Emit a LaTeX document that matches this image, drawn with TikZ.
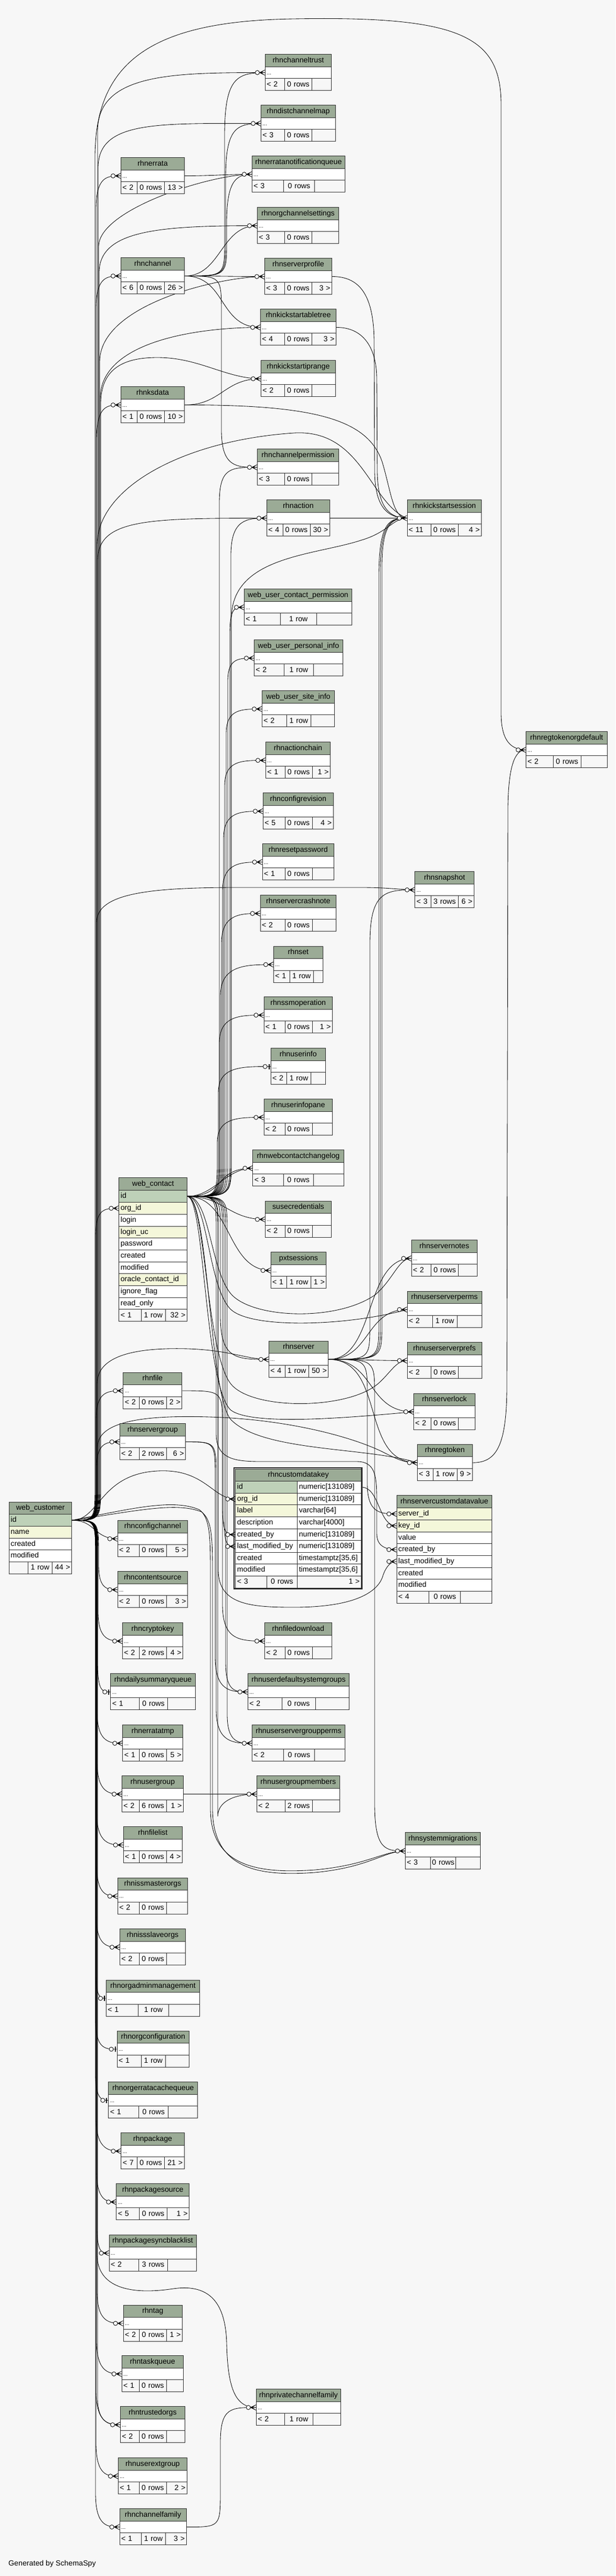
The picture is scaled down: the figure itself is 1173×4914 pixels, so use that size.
\documentclass[tikz,border=0pt]{standalone}
\usepackage{fontspec}
\setmainfont{Liberation Sans}
\usetikzlibrary{calc}
\definecolor{bgc}{HTML}{F7F7F7}
\definecolor{hdrc}{HTML}{9BAB96}
\definecolor{pkc}{HTML}{BED1B8}
\definecolor{idxc}{HTML}{F4F7DA}
\definecolor{bordc}{HTML}{2A2A2A}
\pgfdeclarelayer{back}
\pgfdeclarelayer{edges}
\pgfsetlayers{back,edges,main}
\newcommand\tabfont{\fontsize{14.2}{16}\selectfont}
\newcommand\dotsfont{\fontsize{10}{12}\selectfont}
\def\tblsplit#1/#2\relax{\def\tblda{#1}\def\tbldb{#2}}
\newcommand\dbft[6]{\pgfmathsetmacro\tbw{#3-#2-6}\node[ftst, text width=\tbw pt, align=#5] (#1) at (#2,#4) {\mbox{#6}};}
\newcommand\dbcol[6]{\pgfmathsetmacro\tbw{#3-#2-6}\node[rowst, fill=#5, text width=\tbw pt] (#1) at (#2,#4) {\mbox{#6}};}
\newcommand\dbtable[9]{%
 \tblsplit#6\relax
 \pgfmathsetmacro\tbww{#4-#3}%
 \pgfmathsetmacro\tbwr{#4-#3-6}%
 \pgfmathsetmacro\tby{#5+23.7}%
 \pgfmathsetmacro\tbz{#5+46.4}%
 \node[hdrst, minimum width=\tbww pt] (#1) at (#3,#5) {#2};
 \node[rowst, text width=\tbwr pt] (#1-r) at (#3,\tby) {\dotsfont...};
 \dbft{#1-fa}{#3}{\tblda}{\tbz}{left}{#7}
 \dbft{#1-fb}{\tblda}{\tbldb}{\tbz}{center}{#8}
 \dbft{#1-fc}{\tbldb}{#4}{\tbz}{right}{#9}}
% connector via a vertical bus: from, to, busx, y after first bend, y leave bus, ctrl y, ctrl x
\newcommand\dbconn[7]{\draw[rel] let \p1=(#1.east), \p2=(#2.west) in
 (\p1) .. controls (#3pt,\y1) .. (#3pt,-#4pt) -- (#3pt,-#5pt) .. controls (#3pt,-#6pt) and (#7pt,\y2) .. (\p2);}
\newcommand\dbs[3]{\draw[rel] (#1.east) .. controls +(#3,0) and +(-#3,0) .. (#2.west);}
\newcommand\crowft[1]{%
 \draw[rel] ([xshift=-10pt]#1.west) -- ([yshift=5pt]#1.west) ([xshift=-10pt]#1.west) -- ([yshift=-5pt]#1.west);
 \fill ([xshift=-11pt]#1.west) -- ([xshift=-3pt,yshift=3.5pt]#1.west) -- ([xshift=-6pt]#1.west) -- ([xshift=-3pt,yshift=-3.5pt]#1.west) -- cycle;
 \draw[rel,fill=white] ([xshift=-14.5pt]#1.west) circle (4pt);}
\newcommand\teeft[1]{%
 \draw[line width=2pt] ([xshift=-3pt,yshift=5pt]#1.west) -- ([xshift=-3pt,yshift=-5pt]#1.west);
 \draw[rel,fill=white] ([xshift=-10.5pt]#1.west) circle (4pt);}

\begin{document}
\begin{tikzpicture}[x=1pt,y=-1pt,
 hdrst/.style={draw=bordc, fill=hdrc, line width=0.9pt, inner xsep=3pt, inner ysep=0pt, minimum height=23.7pt, anchor=north west, font=\tabfont, text height=10.5pt, text depth=3pt},
 rowst/.style={draw=bordc, fill=white, line width=0.9pt, inner xsep=3pt, inner ysep=0pt, minimum height=22.7pt, anchor=north west, font=\tabfont, align=left, text height=10.5pt, text depth=3pt},
 ftst/.style={rowst, fill=bgc, minimum height=23pt},
 rel/.style={draw=black, line width=0.85pt}]
\useasboundingbox (0,0) rectangle (1173,4914);
\begin{pgfonlayer}{back}
\fill[bgc] (0,0) rectangle (1173,4914);
\end{pgfonlayer}

% ---------------- tables ----------------
\dbtable{ct}{rhnchanneltrust}{505}{631}{103}{542/594}{< 2}{0 rows}{}
\dbtable{dcm}{rhndistchannelmap}{497}{639}{200}{542/594}{< 3}{0 rows}{}
\dbtable{enq}{rhnerratanotificationqueue}{480}{657}{297}{540/599}{< 3}{0 rows}{}
\dbtable{ocs}{rhnorgchannelsettings}{490}{645}{395}{542/594}{< 3}{0 rows}{}
\dbtable{err}{rhnerrata}{230}{351}{300}{261/313}{< 2}{0 rows}{13 >}
\dbtable{ch}{rhnchannel}{230}{351}{491}{261/313}{< 6}{0 rows}{26 >}
\dbtable{sp}{rhnserverprofile}{504}{632}{492}{542/594}{< 3}{0 rows}{3 >}
\dbtable{kt}{rhnkickstartabletree}{496}{640}{589}{542/594}{< 4}{0 rows}{3 >}
\dbtable{kir}{rhnkickstartiprange}{497}{639}{687}{542/594}{< 2}{0 rows}{}
\dbtable{ksd}{rhnksdata}{230}{351}{737}{261/313}{< 1}{0 rows}{10 >}
\dbtable{cp}{rhnchannelpermission}{490}{645}{856}{542/594}{< 3}{0 rows}{}
\dbtable{act}{rhnaction}{508}{628}{953}{538.5/590.6}{< 4}{0 rows}{30 >}
\dbtable{kss}{rhnkickstartsession}{775.5}{917}{953}{820.7/872.8}{< 11}{0 rows}{4 >}
\dbtable{wucp}{web\_user\_contact\_permission}{465}{670}{1123}{534/602.6}{< 1}{1 row}{}
\dbtable{wupi}{web\_user\_personal\_info}{484}{653}{1220}{541/597}{< 2}{1 row}{}
\dbtable{wusi}{web\_user\_site\_info}{499}{637}{1317}{546/592}{< 2}{1 row}{}
\dbtable{ac}{rhnactionchain}{506}{629}{1415}{542.7/594.8}{< 1}{0 rows}{1 >}
\dbtable{rtod}{rhnregtokenorgdefault}{1002}{1157}{1395}{1054/1106.5}{< 2}{0 rows}{}
\dbtable{cr}{rhnconfigrevision}{501}{634.6}{1512}{542.5/594.6}{< 5}{0 rows}{4 >}
\dbtable{rp}{rhnresetpassword}{499.6}{636}{1609}{542.5/594.6}{< 1}{0 rows}{}
\dbtable{scn}{rhnservercrashnote}{495.7}{640}{1707}{542.5/594.6}{< 2}{0 rows}{}
\dbtable{rset}{rhnset}{521}{615}{1804.5}{551.8/596.8}{< 1}{1 row}{}
\dbtable{snap}{rhnsnapshot}{790.4}{903}{1662}{821/873}{< 3}{3 rows}{6 >}
\dbtable{ssm}{rhnssmoperation}{502.5}{633}{1901}{542.5/594.6}{< 1}{0 rows}{1 >}
\dbtable{ui}{rhnuserinfo}{515.7}{620}{1999}{546.4/591.8}{< 2}{1 row}{}
\dbtable{uip}{rhnuserinfopane}{502.5}{633}{2096}{542.5/594.6}{< 2}{0 rows}{}
\dbtable{wccl}{rhnwebcontactchangelog}{481.4}{654.6}{2193}{539.6/597}{< 3}{0 rows}{}
\dbtable{sc}{susecredentials}{505}{631}{2290.6}{542.5/594.6}{< 2}{0 rows}{}
\dbtable{pxt}{pxtsessions}{515.7}{621.4}{2388}{546.4/591.8}{< 1}{1 row}{1 >}
\dbtable{sn}{rhnservernotes}{783.6}{909}{2365}{821.4/873.2}{< 2}{0 rows}{}
\dbtable{usp}{rhnuserserverperms}{775.7}{917.5}{2462.6}{823.6/870.7}{< 2}{1 row}{}
\dbtable{srv}{rhnserver}{511.8}{625.4}{2557.7}{542.5/587.9}{< 4}{1 row}{50 >}
\dbtable{uspf}{rhnuserserverprefs}{775.7}{917.5}{2560}{821.4/873.2}{< 2}{0 rows}{}
\dbtable{sl}{rhnserverlock}{787.9}{905.4}{2657.6}{821.4/873.2}{< 2}{0 rows}{}
\dbtable{rfile}{rhnfile}{234.3}{346.4}{2617.5}{265/316.8}{< 2}{0 rows}{2 >}
\dbtable{sg}{rhnservergroup}{227.7}{353.3}{2715}{265/317.3}{< 2}{2 rows}{6 >}
\dbtable{rt}{rhnregtoken}{794.8}{900}{2754.7}{825.4/870.5}{< 3}{1 row}{9 >}
\dbtable{cc}{rhnconfigchannel}{223.7}{357.3}{2899.8}{265.3/317.3}{< 2}{0 rows}{5 >}
\dbtable{cs}{rhncontentsource}{223.7}{357.3}{2997}{265.3/317.3}{< 2}{0 rows}{3 >}
\dbtable{fd}{rhnfiledownload}{504}{631.7}{3095}{542.6/595}{< 2}{0 rows}{}
\dbtable{ck}{rhncryptokey}{233}{348.3}{3095}{265/317.3}{< 2}{2 rows}{4 >}
\dbtable{udsg}{rhnuserdefaultsystemgroups}{471.8}{665.4}{3192}{536.8/600.7}{< 2}{0 rows}{}
\dbtable{dsq}{rhndailysummaryqueue}{210.3}{372}{3192}{265.3/318.7}{< 1}{0 rows}{}
\dbtable{etmp}{rhnerratatmp}{233.3}{348.2}{3290}{264.8/317}{< 1}{0 rows}{5 >}
\dbtable{usgp}{rhnuserservergroupperms}{480}{657}{3290}{539.7/599}{< 2}{0 rows}{}
\dbtable{ug}{rhnusergroup}{232}{349}{3387}{264.8/317}{< 2}{6 rows}{1 >}
\dbtable{ugm}{rhnusergroupmembers}{489}{646.7}{3387}{542.6/594.9}{< 2}{2 rows}{}
\dbtable{fl}{rhnfilelist}{234.6}{347}{3484}{264.8/317}{< 1}{0 rows}{4 >}
\dbtable{sm}{rhnsystemmigrations}{772}{915}{3495.4}{820/868}{< 3}{0 rows}{}
\dbtable{imo}{rhnissmasterorgs}{223.8}{357.3}{3581.7}{264.8/317}{< 2}{0 rows}{}
\dbtable{iso}{rhnissslaveorgs}{228}{353}{3679}{264.8/317}{< 2}{0 rows}{}
\dbtable{oam}{rhnorgadminmanagement}{202}{380}{3776.5}{262.8/321}{< 1}{1 row}{}
\dbtable{oc}{rhnorgconfiguration}{222.6}{360.2}{3873.5}{269/314.6}{< 1}{1 row}{}
\dbtable{oecq}{rhnorgerratacachequeue}{206.4}{376.4}{3971}{264/320.4}{< 1}{0 rows}{}
\dbtable{pkg}{rhnpackage}{230.4}{350.7}{4068}{261/313}{< 7}{0 rows}{21 >}
\dbtable{pks}{rhnpackagesource}{221.3}{360.2}{4165}{265.3/317.5}{< 5}{0 rows}{1 >}
\dbtable{psb}{rhnpackagesyncblacklist}{207.6}{373.5}{4262.6}{264/319}{< 2}{3 rows}{}
\dbtable{tag}{rhntag}{234.6}{347}{4396.5}{265.3/317}{< 2}{0 rows}{1 >}
\dbtable{tq}{rhntaskqueue}{231.6}{349}{4493}{264.8/316.8}{< 1}{0 rows}{}
\dbtable{trusto}{rhntrustedorgs}{229}{352}{4590}{264.8/316.8}{< 2}{0 rows}{}
\dbtable{pcf}{rhnprivatechannelfamily}{487.8}{649}{4557}{542.3/596}{< 2}{1 row}{}
\dbtable{ueg}{rhnuserextgroup}{225}{356}{4688}{264.8/316.8}{< 1}{0 rows}{2 >}
\dbtable{cf}{rhnchannelfamily}{227.6}{354.6}{4785}{269/314.8}{< 1}{1 row}{3 >}

% web_contact
\node[hdrst, minimum width=129.6pt, minimum height=24.7pt] (wct) at (226.4,2245.7) {web\_contact};
\dbcol{wct-id}{226.4}{356}{2270.4}{pkc}{id}
\dbcol{wct-org}{226.4}{356}{2293.1}{idxc}{org\_id}
\dbcol{wct-login}{226.4}{356}{2315.8}{white}{login}
\dbcol{wct-luc}{226.4}{356}{2338.5}{idxc}{login\_uc}
\dbcol{wct-pw}{226.4}{356}{2361.2}{white}{password}
\dbcol{wct-cr}{226.4}{356}{2383.9}{white}{created}
\dbcol{wct-mod}{226.4}{356}{2406.6}{white}{modified}
\dbcol{wct-oci}{226.4}{356}{2429.3}{idxc}{oracle\_contact\_id}
\dbcol{wct-if}{226.4}{356}{2452.0}{white}{ignore\_flag}
\dbcol{wct-ro}{226.4}{356}{2474.7}{white}{read\_only}
\dbft{wct-fa}{226.4}{268.6}{2497.4}{left}{< 1}
\dbft{wct-fb}{268.6}{314.6}{2497.4}{center}{1 row}
\dbft{wct-fc}{314.6}{356}{2497.4}{right}{32 >}

% web_customer
\node[hdrst, minimum width=119.3pt] (wcu) at (17,2864.6) {web\_customer};
\dbcol{wcu-id}{17}{136.3}{2888.3}{pkc}{id}
\dbcol{wcu-name}{17}{136.3}{2911.0}{idxc}{name}
\dbcol{wcu-cr}{17}{136.3}{2933.7}{white}{created}
\dbcol{wcu-mod}{17}{136.3}{2956.4}{white}{modified}
\dbft{wcu-fa}{17}{53}{2979.1}{left}{}
\dbft{wcu-fb}{53}{98.7}{2979.1}{center}{1 row}
\dbft{wcu-fc}{98.7}{136.3}{2979.1}{right}{44 >}

% rhncustomdatakey (focus table)
\draw[bordc, line width=2.5pt] (446.2,2800) rectangle (689.6,3030.6);
\node[hdrst, minimum width=239.6pt, minimum height=23.5pt] (cdk) at (448.4,2801.7) {rhncustomdatakey};
\dbcol{cdk-id}{448.4}{566.3}{2825.2}{pkc}{id}
\dbcol{cdk-idt}{566.3}{688}{2825.2}{white}{numeric[131089]}
\dbcol{cdk-org}{448.4}{566.3}{2847.8}{idxc}{org\_id}
\dbcol{cdk-orgt}{566.3}{688}{2847.8}{white}{numeric[131089]}
\dbcol{cdk-lab}{448.4}{566.3}{2870.4}{idxc}{label}
\dbcol{cdk-labt}{566.3}{688}{2870.4}{white}{varchar[64]}
\dbcol{cdk-des}{448.4}{566.3}{2893.0}{white}{description}
\dbcol{cdk-dest}{566.3}{688}{2893.0}{white}{varchar[4000]}
\dbcol{cdk-cb}{448.4}{566.3}{2915.6}{white}{created\_by}
\dbcol{cdk-cbt}{566.3}{688}{2915.6}{white}{numeric[131089]}
\dbcol{cdk-lmb}{448.4}{566.3}{2938.2}{white}{last\_modified\_by}
\dbcol{cdk-lmbt}{566.3}{688}{2938.2}{white}{numeric[131089]}
\dbcol{cdk-cr}{448.4}{566.3}{2960.8}{white}{created}
\dbcol{cdk-crt}{566.3}{688}{2960.8}{white}{timestamptz[35,6]}
\dbcol{cdk-mod}{448.4}{566.3}{2983.4}{white}{modified}
\dbcol{cdk-modt}{566.3}{688}{2983.4}{white}{timestamptz[35,6]}
\dbft{cdk-fa}{448.4}{507.7}{3006.0}{left}{< 3}
\dbft{cdk-fb}{507.7}{566.3}{3006.0}{center}{0 rows}
\dbft{cdk-fc}{566.3}{688}{3006.0}{right}{1 >}

% rhnservercustomdatavalue
\node[hdrst, minimum width=181.3pt, minimum height=24.2pt] (scd) at (755.7,2851.9) {rhnservercustomdatavalue};
\dbcol{scd-sid}{755.7}{937}{2876.1}{idxc}{server\_id}
\dbcol{scd-kid}{755.7}{937}{2898.8}{idxc}{key\_id}
\dbcol{scd-val}{755.7}{937}{2921.5}{white}{value}
\dbcol{scd-cb}{755.7}{937}{2944.2}{white}{created\_by}
\dbcol{scd-lmb}{755.7}{937}{2966.9}{white}{last\_modified\_by}
\dbcol{scd-cr}{755.7}{937}{2989.6}{white}{created}
\dbcol{scd-mod}{755.7}{937}{3012.3}{white}{modified}
\dbft{scd-fa}{755.7}{817.3}{3035.0}{left}{< 4}
\dbft{scd-fb}{817.3}{877.4}{3035.0}{center}{0 rows}
\dbft{scd-fc}{877.4}{937}{3035.0}{right}{}

\node[anchor=west, inner sep=0pt, font=\tabfont] (gen) at (16,4891) {Generated by SchemaSpy};

% ---------------- connectors ----------------
\begin{pgfonlayer}{edges}
% web_customer, upward
\dbconn{wcu-id}{ct-r}{186}{2830}{250}{140}{330}
\dbconn{wcu-id}{dcm-r}{187}{2830}{320}{230}{300}
\dbconn{wcu-id}{enq-r}{188}{2830}{470}{400}{400}
\dbconn{wcu-id}{ocs-r}{189}{2830}{520}{440}{300}
\dbconn{wcu-id}{err-r}{183}{2830}{400}{335}{205}
\dbconn{wcu-id}{ch-r}{183}{2830}{590}{526}{205}
\dbconn{wcu-id}{sp-r}{190}{2830}{690}{580}{420}
\dbconn{wcu-id}{kt-r}{191}{2830}{760}{650}{380}
\draw[rel] (wcu-id.east) .. controls (192,2899.6) .. (192,2830) -- (192,770) .. controls (192,700) and (240,682) .. (300,682) .. controls (380,682) and (430,722) .. (kir-r.west);
\dbconn{wcu-id}{ksd-r}{184}{2830}{840}{772}{205}
\dbconn{wcu-id}{act-r}{186}{2830}{1070}{990}{280}
\draw[rel] (wcu-id.east) .. controls (185,2899.6) .. (185,2830) -- (185,1040) .. controls (185,930) and (350,840) .. (560,826) .. controls (690,818) and (705,960) .. (kss-r.west);
\draw[rel] (wcu-id.east) .. controls (181,2899.6) .. (181,2830) -- (181,300) .. controls (181,110) and (300,40) .. (560,36) .. controls (880,30) and (955,70) .. (955,200) -- (955,1360) .. controls (955,1415) and (975,1430) .. (rtod-r.west);
\draw[rel] (wcu-id.east) .. controls (184,2899.6) .. (184,2830) -- (184,1760) .. controls (184,1705) and (280,1693) .. (450,1693) -- (690,1693) .. controls (740,1693) and (760,1697) .. (snap-r.west);
\dbconn{wcu-id}{wct-org}{182}{2830}{2360}{2304}{200}
\dbconn{wcu-id}{rfile-r}{183}{2830}{2710}{2653}{205}
\dbconn{wcu-id}{sg-r}{184}{2830}{2800}{2750}{205}
\draw[rel] (wcu-id.east) .. controls (185,2899.6) .. (185,2830) -- (185,2640) .. controls (185,2585) and (260,2570) .. (360,2573) .. controls (440,2576) and (470,2593) .. (srv-r.west);
\draw[rel] (wcu-id.east) .. controls (186,2899.6) .. (186,2830) -- (186,2760) .. controls (186,2705) and (300,2700) .. (400,2703) .. controls (560,2708) and (680,2745) .. (730,2770) .. controls (760,2785) and (770,2790) .. (rt-r.west);
\draw[rel] (wcu-id.east) .. controls (190,2899.6) and (190,2812) .. (300,2806) .. controls (390,2801) and (405,2859) .. (cdk-org.west);
% web_customer, downward
\dbs{wcu-id}{cc-r}{45}
\dbconn{wcu-id}{cs-r}{188}{2970}{2985}{3032}{205}
\dbconn{wcu-id}{ck-r}{187}{2970}{3075}{3130}{210}
\dbconn{wcu-id}{dsq-r}{186}{2970}{3170}{3227}{195}
\dbconn{wcu-id}{etmp-r}{185}{2970}{3265}{3325}{210}
\dbconn{wcu-id}{ug-r}{185}{2970}{3360}{3422}{210}
\dbconn{wcu-id}{fl-r}{184}{2970}{3455}{3519}{210}
\dbconn{wcu-id}{imo-r}{184}{2970}{3555}{3617}{205}
\dbconn{wcu-id}{iso-r}{183}{2970}{3650}{3714}{205}
\dbconn{wcu-id}{oam-r}{183}{2970}{3765}{3812}{192}
\dbconn{wcu-id}{oc-r}{182}{2970}{3850}{3909}{200}
\dbconn{wcu-id}{oecq-r}{182}{2970}{3955}{4006}{195}
\dbconn{wcu-id}{pkg-r}{183}{2970}{4040}{4103}{210}
\dbconn{wcu-id}{pks-r}{184}{2970}{4140}{4200}{205}
\dbconn{wcu-id}{psb-r}{185}{2970}{4250}{4298}{195}
\dbconn{wcu-id}{tag-r}{185}{2970}{4370}{4432}{210}
\dbconn{wcu-id}{tq-r}{184}{2970}{4465}{4528}{210}
\dbconn{wcu-id}{trusto-r}{183}{2970}{4560}{4625}{210}
\dbconn{wcu-id}{trusto-r}{186}{2970}{4575}{4625}{212}
\dbconn{wcu-id}{ueg-r}{183}{2970}{4660}{4723}{205}
\dbconn{wcu-id}{cf-r}{182}{2970}{4755}{4820}{205}
\draw[rel] (wcu-id.east) .. controls (185,2899.6) .. (185,2970) -- (185,4300) .. controls (185,4365) and (250,4378) .. (330,4366) .. controls (405,4355) and (430,4400) .. (432,4470) .. controls (434,4560) and (450,4592) .. (pcf-r.west);
\draw[rel] (wcu-id.east) .. controls (250,2878) and (330,2858) .. (380,2880) .. controls (400,2895) and (401,2930) .. (401,3000) -- (401,3450) .. controls (401,3565) and (500,3574) .. (600,3567) .. controls (700,3558) and (730,3531) .. (sm-r.west);
\draw[rel] (wcu-id.east) .. controls (250,2884) and (335,2864) .. (384,2884) .. controls (404,2899) and (405,2934) .. (405,3000) -- (405,3450) .. controls (405,3570) and (500,3579) .. (600,3572) .. controls (705,3562) and (732,3531) .. (sm-r.west);
% web_contact, upward
\dbconn{wct-id}{wucp-r}{438}{2210}{1210}{1158}{448}
\dbconn{wct-id}{wupi-r}{434}{2210}{1300}{1255}{455}
\dbconn{wct-id}{wusi-r}{431}{2210}{1400}{1352}{460}
\dbconn{wct-id}{ac-r}{428}{2210}{1500}{1450}{460}
\dbconn{wct-id}{cr-r}{426}{2210}{1600}{1547}{460}
\dbconn{wct-id}{rp-r}{424}{2210}{1700}{1644}{460}
\dbconn{wct-id}{scn-r}{422}{2210}{1800}{1742}{460}
\dbconn{wct-id}{rset-r}{420}{2210}{1900}{1840}{470}
\dbconn{wct-id}{ssm-r}{418}{2210}{1990}{1936}{460}
\dbconn{wct-id}{ui-r}{416}{2210}{2085}{2034}{460}
\dbconn{wct-id}{uip-r}{414}{2210}{2180}{2131}{455}
\dbs{wct-id}{wccl-r}{50}
\dbs{wct-id}{wccl-r}{75}
\dbconn{wct-id}{cp-r}{418}{2210}{960}{891}{440}
\dbconn{wct-id}{act-r}{440}{2210}{1060}{990}{470}
\draw[rel] (wct-id.east) .. controls (441,2281.7) .. (441,2210) -- (441,1180) .. controls (441,1060) and (600,1060) .. (690,1030) .. controls (740,1015) and (750,988) .. (kss-r.west);
% web_contact, downward
\dbs{wct-id}{sc-r}{70}
\dbs{wct-id}{pxt-r}{85}
\draw[rel] (wct-id.east) .. controls (400,2281.7) and (400,2420) .. (440,2468) .. controls (480,2515) and (640,2522) .. (715,2470) .. controls (750,2440) and (760,2400) .. (sn-r.west);
\draw[rel] (wct-id.east) .. controls (396,2281.7) and (396,2455) .. (440,2498) .. controls (480,2535) and (660,2530) .. (usp-r.west);
\draw[rel] (wct-id.east) .. controls (392,2281.7) and (392,2580) .. (440,2640) .. controls (480,2690) and (660,2690) .. (720,2640) .. controls (745,2618) and (755,2595) .. (uspf-r.west);
\draw[rel] (wct-id.east) .. controls (390,2281.7) and (390,2645) .. (440,2690) .. controls (480,2720) and (660,2705) .. (sl-r.west);
\draw[rel] (wct-id.east) .. controls (398,2281.7) and (398,2660) .. (440,2708) .. controls (500,2770) and (700,2760) .. (rt-r.west);
\dbconn{wct-id}{srv-r}{420}{2350}{2510}{2593}{450}
\dbconn{wct-id}{cdk-cb}{424}{2350}{2875}{2927}{432}
\dbconn{wct-id}{cdk-lmb}{427}{2350}{2895}{2950}{434}
\draw[rel] (wct-id.east) .. controls (412,2281.7) .. (412,2350) -- (412,2735) .. controls (412,2785) and (450,2788) .. (500,2788) -- (680,2788) .. controls (715,2788) and (718,2815) .. (718,2860) -- (718,2925) .. controls (718,2950) and (735,2955.5) .. (scd-cb.west);
\draw[rel] (wct-id.east) .. controls (416,2281.7) .. (416,2350) -- (416,2995) .. controls (416,3062) and (480,3066) .. (560,3066) .. controls (680,3066) and (722,3035) .. (730,3005) .. controls (736,2988) and (745,2978.2) .. (scd-lmb.west);
\dbconn{wct-id}{udsg-r}{430}{2350}{3170}{3227}{448}
\dbconn{wct-id}{usgp-r}{433}{2350}{3270}{3325}{455}
\dbconn{wct-id}{ugm-r}{415}{2350}{3465}{3440}{440}
% rhnchannel
\dbconn{ch-r}{ct-r}{428}{460}{260}{150}{450}
\dbconn{ch-r}{dcm-r}{430}{460}{340}{245}{450}
\dbconn{ch-r}{enq-r}{432}{460}{425}{345}{450}
\dbs{ch-r}{ocs-r}{70}
\dbs{ch-r}{sp-r}{60}
\dbs{ch-r}{kt-r}{80}
\dbconn{ch-r}{cp-r}{422}{600}{820}{891}{450}
% others
\dbs{err-r}{enq-r}{50}
\dbs{ksd-r}{kir-r}{70}
\draw[rel] (ksd-r.east) .. controls (600,772) and (700,800) .. (728,880) .. controls (745,935) and (748,988) .. (kss-r.west);
\draw[rel] (sp-r.east) .. controls (690,527.2) and (712,570) .. (713,650) -- (714,900) .. controls (715,970) and (740,988) .. (kss-r.west);
\draw[rel] (kt-r.east) .. controls (690,624.2) and (717,660) .. (718,720) -- (719,900) .. controls (720,972) and (745,988) .. (kss-r.west);
\dbs{act-r}{kss-r}{50}
\dbconn{srv-r}{kss-r}{722}{2523}{1100}{990}{745}
\dbconn{srv-r}{kss-r}{725}{2523}{1090}{992}{748}
\dbconn{srv-r}{kss-r}{728}{2523}{1080}{994}{750}
\dbconn{srv-r}{snap-r}{705}{2523}{1800}{1700}{735}
\dbs{srv-r}{sn-r}{90}
\dbs{srv-r}{usp-r}{80}
\dbs{srv-r}{uspf-r}{60}
\dbs{srv-r}{sl-r}{90}
\dbs{srv-r}{rt-r}{110}
\dbconn{srv-r}{scd-sid}{700}{2663}{2830}{2887}{725}
\dbconn{srv-r}{sm-r}{714}{2663}{3440}{3530}{735}
\draw[rel] (rt-r.east) .. controls (945,2790.1) and (965,2760) .. (966,2650) -- (968,1540) .. controls (969,1465) and (980,1430.2) .. (rtod-r.west);
\dbs{cdk-idt}{scd-kid}{35}
\dbconn{rfile-r}{fd-r}{424}{2722}{3060}{3128}{455}
\dbconn{sg-r}{udsg-r}{410}{2820}{3160}{3227}{440}
\dbconn{sg-r}{usgp-r}{412}{2820}{3260}{3325}{445}
\dbs{ug-r}{ugm-r}{60}
\dbconn{cf-r}{pcf-r}{420}{4750}{4660}{4592}{440}
\end{pgfonlayer}

% ---------------- crow's feet ----------------
\foreach \q in {ct-r,dcm-r,enq-r,ocs-r,err-r,ch-r,sp-r,kt-r,kir-r,ksd-r,cp-r,act-r,kss-r,wucp-r,wupi-r,wusi-r,ac-r,rtod-r,cr-r,rp-r,scn-r,rset-r,snap-r,ssm-r,uip-r,wccl-r,wct-org,sc-r,pxt-r,sn-r,usp-r,srv-r,uspf-r,sl-r,rfile-r,sg-r,rt-r,cdk-org,cdk-cb,cdk-lmb,scd-sid,scd-kid,scd-cb,scd-lmb,cc-r,cs-r,fd-r,ck-r,udsg-r,etmp-r,usgp-r,ug-r,ugm-r,fl-r,sm-r,imo-r,iso-r,pkg-r,pks-r,psb-r,tag-r,tq-r,trusto-r,pcf-r,ueg-r,cf-r}{\crowft{\q}}
\foreach \q in {ui-r,dsq-r,oam-r,oc-r,oecq-r}{\teeft{\q}}
\end{tikzpicture}
\end{document}
